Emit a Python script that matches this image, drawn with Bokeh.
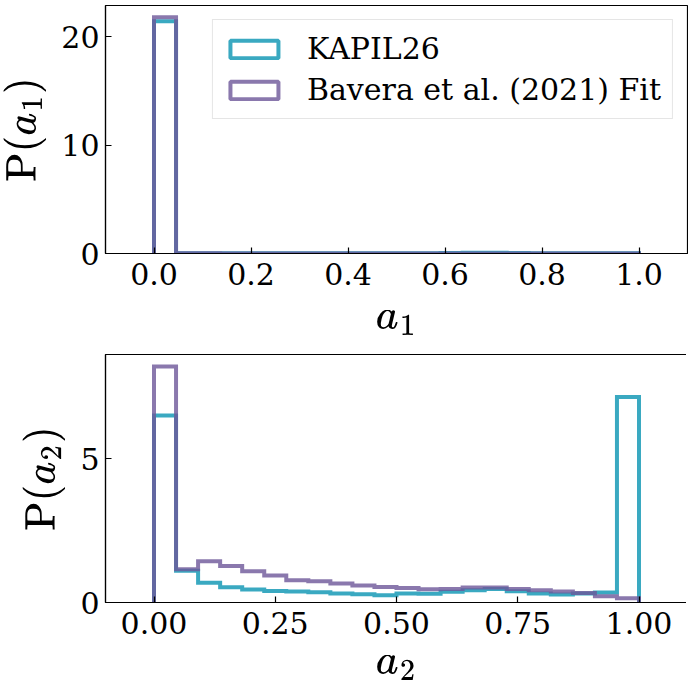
import numpy as np
from bokeh.plotting import figure
from bokeh.layouts import column
from bokeh.models import FixedTicker, Range1d, Legend, LegendItem
from bokeh.embed import file_html
from bokeh.resources import INLINE

# ---- data (probability densities per bin, 22 equal bins on [0, 1]) ----
n_bins = 22
a_min, a_max = 0.0, 1.0

a1_kapil = [21.40, 0.03, 0.02, 0.02, 0.02, 0.02, 0.02, 0.02, 0.02, 0.02, 0.02,
            0.02, 0.03, 0.05, 0.08, 0.08, 0.04, 0.03, 0.02, 0.02, 0.02, 0.02]
a1_bavera = [21.77, 0.02, 0.02, 0.01, 0.01, 0.01, 0.01, 0.01, 0.01, 0.01, 0.01,
             0.01, 0.01, 0.01, 0.01, 0.01, 0.01, 0.01, 0.01, 0.01, 0.01, 0.01]

a2_kapil = [6.50, 1.10, 0.69, 0.53, 0.45, 0.40, 0.38, 0.36, 0.31, 0.29, 0.25,
            0.31, 0.30, 0.37, 0.43, 0.47, 0.39, 0.31, 0.28, 0.31, 0.35, 7.14]
a2_bavera = [8.20, 1.16, 1.43, 1.27, 1.09, 0.94, 0.77, 0.74, 0.66, 0.59, 0.54,
             0.50, 0.46, 0.47, 0.52, 0.52, 0.47, 0.43, 0.38, 0.33, 0.22, 0.15]

series_labels = ["KAPIL26", "Bavera et al. (2021) Fit"]
series_colors = ["#0994b2", "#6d5698"]
series_alpha = 0.8

top_xticks = [0.0, 0.2, 0.4, 0.6, 0.8, 1.0]
top_yticks = [0, 10, 20]
bot_xticks = [0.0, 0.25, 0.5, 0.75, 1.0]
bot_yticks = [0, 5]

FONT = "DejaVu Serif"
FRAME_W = 582
FRAME_H = 248
edges = np.linspace(a_min, a_max, n_bins + 1)


def step_xy(vals):
    v = np.asarray(vals, dtype=float)
    xs = np.repeat(edges, 2)
    ys = np.concatenate([[0.0], np.repeat(v, 2), [0.0]])
    return xs, ys


def make_fig(mb_top, mb_bottom, ymax, xticks, yticks, xfmt, xlabel, xlabel_standoff,
             ylabel, data, legend):
    p = figure(frame_width=FRAME_W, frame_height=FRAME_H, output_backend="svg",
               toolbar_location=None,
               x_range=Range1d(-0.1, 1.1), y_range=Range1d(0, ymax),
               min_border_left=103, min_border_right=1,
               min_border_top=mb_top, min_border_bottom=mb_bottom)
    p.grid.visible = False
    p.outline_line_color = "black"
    p.outline_line_width = 1.2
    p.background_fill_color = "white"
    p.border_fill_color = "white"

    for vals, col in zip(data, series_colors):
        xs, ys = step_xy(vals)
        p.line(xs, ys, line_color=col, line_alpha=series_alpha, line_width=4,
               line_join="miter")

    for ax in (p.xaxis[0], p.yaxis[0]):
        ax.axis_line_color = "black"
        ax.axis_line_width = 1.2
        ax.major_tick_line_color = "black"
        ax.major_tick_line_width = 1.2
        ax.major_tick_in = 6
        ax.major_tick_out = 0
        ax.minor_tick_line_color = None
        ax.major_label_text_font = FONT
        ax.major_label_text_font_size = "30px"
        ax.major_label_text_color = "black"
        ax.axis_label_text_font = FONT
        ax.axis_label_text_font_size = "35px"
        ax.axis_label_text_font_style = "normal"
        ax.axis_label_text_color = "black"
    p.yaxis.major_label_standoff = 6
    p.yaxis.axis_label_standoff = 12
    p.xaxis.major_label_standoff = 9
    p.xaxis.axis_label_standoff = xlabel_standoff

    p.xaxis.ticker = FixedTicker(ticks=xticks)
    p.yaxis.ticker = FixedTicker(ticks=yticks)
    p.xaxis.major_label_overrides = {t: xfmt.format(t) for t in xticks}
    p.yaxis.major_label_overrides = {t: str(t) for t in yticks}
    p.xaxis.axis_label = xlabel
    p.yaxis.axis_label = ylabel

    if legend:
        items = []
        for lab, col in zip(series_labels, series_colors):
            # legend-only patch (no visible data point)
            q = p.quad(left=[np.nan], right=[np.nan], top=[np.nan], bottom=[np.nan],
                       fill_color="white", fill_alpha=1.0, line_color=col,
                       line_alpha=series_alpha, line_width=4)
            items.append(LegendItem(label=lab, renderers=[q]))
        lg = Legend(items=items, location="top_right")
        lg.label_text_font = FONT
        lg.label_text_font_size = "30px"
        lg.label_text_color = "black"
        lg.glyph_width = 60
        lg.glyph_height = 22
        lg.label_standoff = 23
        lg.spacing = 6
        lg.padding = 11
        lg.margin = 14
        lg.border_line_color = "#cccccc"
        lg.border_line_width = 1.3
        lg.background_fill_color = "white"
        lg.background_fill_alpha = 1.0
        p.add_layout(lg)
    return p


p1 = make_fig(5, 101, 22.86, top_xticks, top_yticks, "{:.1f}",
              r"$$a_1$$", 22, r"$$\mathrm{P}(a_1)$$", [a1_kapil, a1_bavera], True)
p2 = make_fig(0, 78, 8.62, bot_xticks, bot_yticks, "{:.2f}",
              r"$$a_2$$", 18, r"$$\mathrm{P}(a_2)$$", [a2_kapil, a2_bavera], False)

layout = column(p1, p2, spacing=0)
open("out.html", "w").write(file_html(layout, INLINE))
